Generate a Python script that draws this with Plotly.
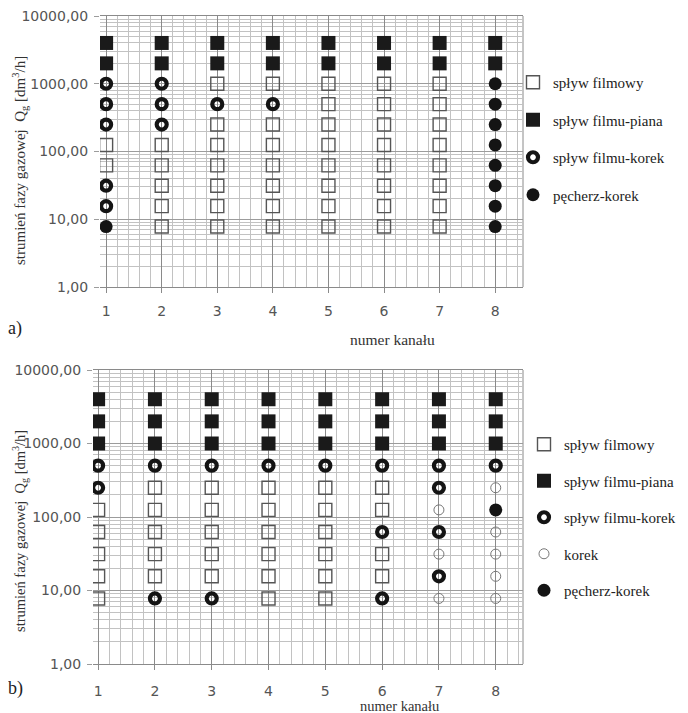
import plotly.graph_objects as go

# ---------------- data ----------------
channels = [1, 2, 3, 4, 5, 6, 7, 8]
levels = [7.8, 15.6, 31.25, 62.5, 125, 250, 500, 1000, 2000, 4000]
y_tickvals = [1, 10, 100, 1000, 10000]
y_ticktext = ["1,00", "10,00", "100,00", "1000,00", "10000,00"]

# regime code per channel, listed from lowest to highest gas flow level
# F = spływ filmowy, P = spływ filmu-piana, K = spływ filmu-korek,
# C = korek, B = pęcherz-korek
regimes_a = ["BKKFFKKKPP", "FFFFFKKKPP", "FFFFFFKFPP", "FFFFFFKFPP",
             "FFFFFFFFPP", "FFFFFFFFPP", "FFFFFFFFPP", "BBBBBBBBPP"]
regimes_b = ["FFFFFKKPPP", "KFFFFFKPPP", "KFFFFFKPPP", "FFFFFFKPPP",
             "FFFFFFKPPP", "KFFKFFKPPP", "CKCKCKKPPP", "CCCCBCKPPP"]

names = {"F": "spływ filmowy", "P": "spływ filmu-piana", "K": "spływ filmu-korek",
         "C": "korek", "B": "pęcherz-korek"}
order_a = ["F", "P", "K", "B"]
order_b = ["F", "P", "K", "C", "B"]

# ---------------- styles ----------------
styles = {
    "F": dict(symbol="square-open", size=13, color="#555555", line=dict(width=1.4, color="#555555")),
    "P": dict(symbol="square", size=14, color="#1a1a1a", line=dict(width=0)),
    "K": dict(symbol="circle-open", size=10, color="#141414", line=dict(width=4.2, color="#141414")),
    "C": dict(symbol="circle-open", size=10, color="#777777", line=dict(width=1, color="#777777")),
    "B": dict(symbol="circle", size=13, color="#141414", line=dict(width=0)),
}

# the page body adds an 8 px margin, so the figure is 8 px smaller and
# screen coordinates are shifted by 8 px
OFF = 8
W, H = 688 - OFF, 713 - OFF


def px(x):
    return (x - OFF) / W


def py(y):
    return 1 - (y - OFF) / H


fig = go.Figure()


def add_chart(regimes, order, xa, ya, legend):
    for code in order:
        xs, ys = [], []
        for ch, reg in zip(channels, regimes):
            for lvl, r in zip(levels, reg):
                if r == code:
                    xs.append(ch)
                    ys.append(lvl)
        fig.add_trace(go.Scatter(
            x=xs, y=ys, mode="markers", name=names[code],
            marker=styles[code], xaxis=xa, yaxis=ya,
            legend=legend, legendgroup=legend + code, showlegend=True,
        ))


add_chart(regimes_a, order_a, "x", "y", "legend")
add_chart(regimes_b, order_b, "x2", "y2", "legend2")

tickfont = dict(family="DejaVu Sans", size=14, color="#555555")
major_x = "#8a8a8a"
minor_x = "#c2c2c2"
major_y = "#9c9c9c"
minor_y = "#c2c2c2"
minor_logvals = [m * 10 ** k for k in range(4) for m in range(2, 10)]


def xaxis_cfg(domain, rng, anchor, standoff):
    return dict(domain=domain, range=rng, anchor=anchor, dtick=1, tick0=0,
                showgrid=True, gridcolor=major_x, gridwidth=1,
                minor=dict(dtick=0.2, tick0=0, showgrid=True, gridcolor=minor_x, ticks=""),
                ticks="outside", ticklen=5, tickcolor=major_x,
                showline=True, linecolor=major_x, linewidth=1, mirror=True,
                zeroline=False, tickfont=tickfont, ticklabelstandoff=standoff,
                ticklabeloverflow="allow", automargin=False, fixedrange=True)


def yaxis_cfg(domain, anchor):
    return dict(domain=domain, type="log", range=[0, 4], anchor=anchor,
                tickvals=y_tickvals, ticktext=y_ticktext,
                showgrid=True, gridcolor=major_y, gridwidth=1,
                minor=dict(tickvals=minor_logvals, showgrid=True, gridcolor=minor_y, ticks=""),
                ticks="outside", ticklen=5, tickcolor=major_y,
                showline=False, zeroline=False, tickfont=tickfont,
                ticklabelstandoff=3, ticklabeloverflow="allow",
                automargin=False, fixedrange=True)


# pixel geometry (screen pixels of the reference) converted to paper fractions
ax_dom = [px(100), px(523)]
ay_dom = [py(287), py(16)]
bx_dom = [px(93), px(523)]
by_dom = [py(664), py(370)]

legend_font = dict(family="Liberation Serif", size=15, color="#222222")

fig.update_layout(
    width=W, height=H,
    margin=dict(l=0, r=0, t=0, b=0, autoexpand=False),
    paper_bgcolor="white", plot_bgcolor="white",
    xaxis=xaxis_cfg(ax_dom, [0.89, 8.5], "y", 6),
    yaxis=yaxis_cfg(ay_dom, "x"),
    xaxis2=xaxis_cfg(bx_dom, [0.91, 8.48], "y2", 9),
    yaxis2=yaxis_cfg(by_dom, "x2"),
    legend=dict(x=px(513), y=py(66), xanchor="left", yanchor="top",
                font=legend_font, traceorder="grouped", tracegroupgap=15,
                bgcolor="rgba(0,0,0,0)"),
    legend2=dict(x=px(524), y=py(428), xanchor="left", yanchor="top",
                 font=legend_font, traceorder="grouped", tracegroupgap=14,
                 bgcolor="rgba(0,0,0,0)"),
    showlegend=True,
)

# right frame lines
for xr, yr in [("x domain", "y domain"), ("x2 domain", "y2 domain")]:
    fig.add_shape(type="line", xref=xr, yref=yr, x0=1, x1=1, y0=0, y1=1,
                  line=dict(color=major_x, width=1), layer="below")

ytitle = "strumień fazy gazowej  Q<sub>g</sub> [dm<sup>3</sup>/h]"
serif = "Liberation Serif"
annotations = [
    dict(text=ytitle, x=px(20), y=py(161), textangle=-90,
         font=dict(family=serif, size=15, color="#333333")),
    dict(text=ytitle, x=px(20), y=py(531), textangle=-90,
         font=dict(family=serif, size=14.5, color="#333333")),
    dict(text="numer kanału", x=px(392), y=py(339),
         font=dict(family=serif, size=15.5, color="#333333")),
    dict(text="numer kanału", x=px(400), y=py(706),
         font=dict(family=serif, size=14.5, color="#333333")),
    dict(text="a)", x=px(15), y=py(328),
         font=dict(family=serif, size=18, color="#222222")),
    dict(text="b)", x=px(15), y=py(688),
         font=dict(family=serif, size=18, color="#222222")),
]
for a in annotations:
    fig.add_annotation(xref="paper", yref="paper", showarrow=False,
                       xanchor="center", yanchor="middle", **a)

fig.write_html("out.html")
